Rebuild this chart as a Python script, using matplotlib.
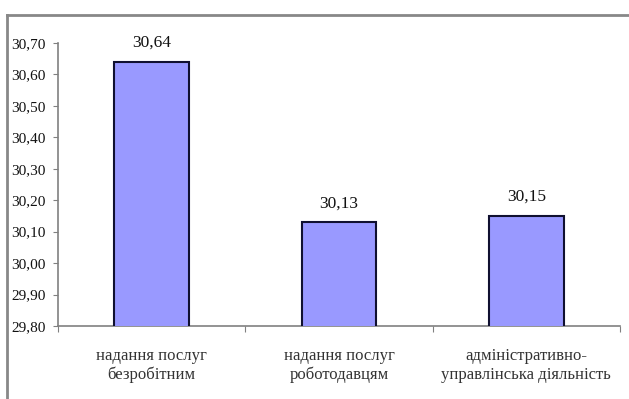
import matplotlib.pyplot as plt
from matplotlib.lines import Line2D

categories = ['надання послуг\nбезробітним', 'надання послуг\nроботодавцям',
              'адміністративно-\nуправлінська діяльність']
values = [30.64, 30.13, 30.15]
value_labels = ['30,64', '30,13', '30,15']
y_ticks = [29.80, 29.90, 30.00, 30.10, 30.20, 30.30, 30.40, 30.50, 30.60, 30.70]

plt.rcParams['font.family'] = ['Liberation Serif', 'DejaVu Serif']

W, H = 629, 399
fig = plt.figure(figsize=(W / 100, H / 100), dpi=100)
ax = fig.add_axes([58 / W, 1 - 326 / H, (620 - 58) / W, (326 - 43) / H])

x = list(range(len(categories)))
ax.bar(x, values, width=0.4, bottom=0, color='#9999FF', edgecolor='#101030', linewidth=1.5, zorder=3)
ax.set_xlim(-0.5, len(categories) - 0.5)
ax.set_ylim(29.80, 30.70)

for xi, v, lab in zip(x, values, value_labels):
    ax.text(xi, v + 0.035, lab, ha='center', va='bottom', fontsize=12.5, color='#111111')

ax.set_yticks(y_ticks)
ax.set_yticklabels([f'{t:.2f}'.replace('.', ',') for t in y_ticks], fontsize=11, color='#111111')
ax.set_xticks([i - 0.5 for i in range(len(categories) + 1)])
ax.set_xticklabels([])
ax.set_xticks(x, minor=True)
ax.set_xticklabels(categories, minor=True, fontsize=12, color='#333333', linespacing=1.2)
ax.tick_params(axis='x', which='minor', length=0, pad=16)
ax.tick_params(axis='x', which='major', length=4, color='#808080', direction='out')
ax.tick_params(axis='y', length=3.6, color='#808080', direction='out', pad=5.5)

for side in ['top', 'right']:
    ax.spines[side].set_visible(False)
for side in ['left', 'bottom']:
    ax.spines[side].set_color('#808080')
    ax.spines[side].set_linewidth(1.2)

# outer frame (top and left only visible)
fig.add_artist(Line2D([7 / W, 1], [1 - 15 / H, 1 - 15 / H], color='#888888', linewidth=2, transform=fig.transFigure))
fig.add_artist(Line2D([7 / W, 7 / W], [0, 1 - 15 / H], color='#888888', linewidth=2, transform=fig.transFigure))

fig.savefig('out.png', dpi=100)
